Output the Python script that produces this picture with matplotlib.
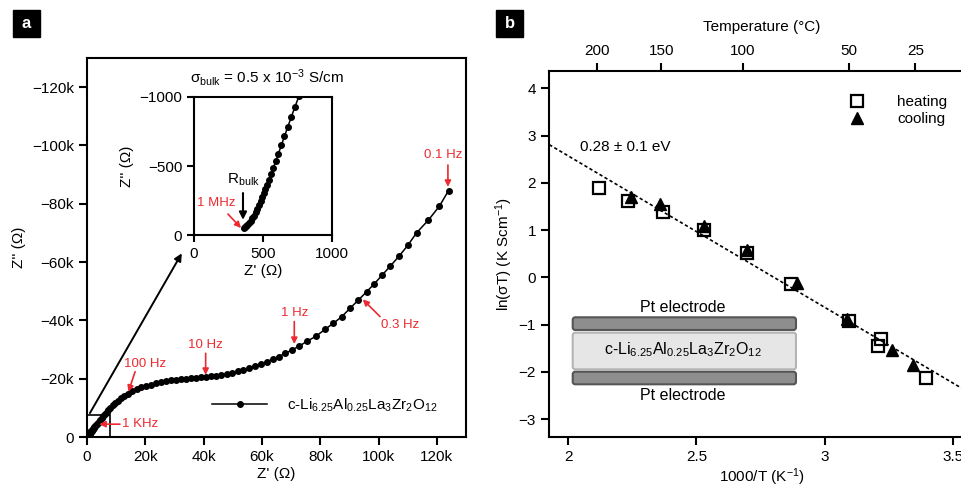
import numpy as np
import matplotlib
matplotlib.use('Agg')
import matplotlib.pyplot as plt
from matplotlib.patches import Rectangle, FancyBboxPatch
from matplotlib.lines import Line2D
from matplotlib.ticker import FuncFormatter

plt.rcParams['font.family'] = ['Liberation Sans', 'DejaVu Sans']
plt.rcParams['mathtext.default'] = 'regular'
plt.rcParams['font.size'] = 11

RED = '#ec2a30'

# ---- panel a: impedance spectrum (kOhm), Z' and -Z''
z_re_k = [0.360, 0.368, 0.377, 0.387, 0.398, 0.410, 0.422, 0.434, 0.446, 0.458,
          0.470, 0.482, 0.494, 0.506, 0.518, 0.530, 0.543, 0.558, 0.574, 0.592,
          0.612, 0.633, 0.655, 0.680, 0.706, 0.732, 0.760, 0.800, 0.860, 0.930,
          1.010, 1.100, 1.200, 1.310, 1.430, 1.570, 1.720, 1.890, 2.080, 2.290,
          2.520, 2.780, 3.070, 3.390, 3.740, 4.150, 4.600, 5.100, 5.600, 6.150,
          6.750, 7.350, 8.000, 8.750, 9.600, 10.50, 11.50, 12.70, 14.00, 15.50,
          17.00, 18.60, 20.30, 22.00, 23.70, 25.40, 27.10, 28.80, 30.50, 32.20,
          33.90, 35.60, 37.30, 39.00, 40.80, 42.50, 44.30, 46.10, 47.90, 49.80,
          51.70, 53.60, 55.60, 57.60, 59.60, 61.60, 63.70, 65.80, 68.00, 70.20,
          72.80, 75.60, 78.60, 81.60, 84.50, 87.40, 90.20, 93.10, 95.90, 98.60,
          101.3, 104.1, 107.1, 110.0, 113.1, 117.1, 120.9, 124.0]
z_im_k = [0.050, 0.055, 0.062, 0.072, 0.085, 0.101, 0.120, 0.141, 0.164, 0.189,
          0.215, 0.243, 0.272, 0.302, 0.333, 0.365, 0.400, 0.440, 0.484, 0.534,
          0.590, 0.650, 0.714, 0.785, 0.858, 0.930, 1.005, 1.090, 1.190, 1.300,
          1.420, 1.550, 1.690, 1.840, 2.000, 2.180, 2.370, 2.580, 2.810, 3.060,
          3.330, 3.630, 3.960, 4.320, 4.700, 5.200, 5.800, 6.500, 7.200, 7.950,
          8.700, 9.400, 10.10, 10.85, 11.65, 12.45, 13.25, 14.10, 14.90, 15.70,
          16.40, 17.00, 17.55, 18.00, 18.40, 18.80, 19.10, 19.40, 19.60, 19.80,
          20.00, 20.15, 20.30, 20.45, 20.60, 20.80, 21.00, 21.30, 21.60, 22.00,
          22.50, 23.00, 23.70, 24.40, 25.10, 25.80, 26.70, 27.60, 28.70, 29.80,
          31.20, 32.90, 34.60, 36.90, 39.00, 41.30, 44.10, 47.00, 49.80, 52.60,
          55.60, 58.70, 62.10, 65.70, 70.10, 74.40, 79.20, 84.50]

# frequency labels: (text, text pos, arrow start, arrow tip) in kOhm
freq_labels = [
    ('0.1 Hz', (122.1, 96.6), (123.8, 93.3), (123.8, 85.8)),
    ('0.3 Hz', (107.4, 38.4), (100.5, 41.3), (94.6, 47.2)),
    ('1 Hz', (71.4, 42.6), (71.1, 39.6), (71.1, 31.9)),
    ('10 Hz', (40.7, 31.6), (40.7, 28.7), (40.7, 21.3)),
    ('100 Hz', (19.9, 25.0), (16.5, 22.4), (14.2, 15.5)),
]

# ---- panel b: Arrhenius data
heat_x = [2.120, 2.234, 2.368, 2.529, 2.696, 2.871, 3.096, 3.222, 3.209, 3.395]
heat_y = [1.90, 1.62, 1.39, 1.01, 0.52, -0.13, -0.92, -1.31, -1.45, -2.13]
cool_x = [2.245, 2.358, 2.529, 2.696, 2.891, 3.086, 3.265, 3.346]
cool_y = [1.70, 1.55, 1.08, 0.58, -0.11, -0.87, -1.54, -1.86]
fit_x = [1.926, 3.59]
fit_y = [2.81, -2.52]
temps_c = [200, 150, 100, 50, 25]

fig = plt.figure(figsize=(9.61, 4.9), dpi=100)

# panel labels
for x0, lab in [(13, 'a'), (496, 'b')]:
    fig.patches.append(Rectangle((x0 / 961, 1 - 37 / 490), 27 / 961, 27 / 490,
                                 transform=fig.transFigure, color='black'))
    fig.text((x0 + 13.5) / 961, 1 - 23.5 / 490, lab, color='white',
             fontweight='bold', fontsize=12, ha='center', va='center')

zre = np.array(z_re_k) * 1000
zim = -np.array(z_im_k) * 1000

axa = fig.add_axes([87 / 961, 1 - 437 / 490, 379 / 961, 379 / 490])
axa.plot(zre, zim, 'k-', marker='o', ms=4, lw=1.1,
         label='c-Li$_{6.25}$Al$_{0.25}$La$_3$Zr$_2$O$_{12}$')
axa.set_xlim(0, 130000)
axa.set_ylim(0, -130000)
axa.set_xticks(np.arange(0, 130000, 20000))
axa.set_yticks(np.arange(0, -130000, -20000))
kfmt = FuncFormatter(lambda v, p: '0' if v == 0 else f'{v / 1000:.0f}k'.replace('-', '\u2212'))
axa.xaxis.set_major_formatter(kfmt)
axa.yaxis.set_major_formatter(kfmt)
axa.set_xlabel("Z' (\u03a9)", labelpad=2)
axa.set_ylabel("Z'' (\u03a9)", labelpad=4)
for s in axa.spines.values():
    s.set_linewidth(1.5)
axa.tick_params(direction='out', length=6, width=1.5, labelsize=11)
axa.legend(loc='center left', bbox_to_anchor=(0.33, 0.0844), frameon=False,
           borderpad=0, borderaxespad=0, handlelength=3.6, handletextpad=1.3,
           fontsize=11)

for txt, tpos, a0, a1 in freq_labels:
    axa.annotate('', xy=(a1[0] * 1000, -a1[1] * 1000), xytext=(a0[0] * 1000, -a0[1] * 1000),
                 arrowprops=dict(arrowstyle='-|>', color=RED, lw=1.2, mutation_scale=9,
                                 shrinkA=0, shrinkB=0))
    axa.text(tpos[0] * 1000, -tpos[1] * 1000, txt, color=RED, fontsize=9.5,
             ha='center', va='center')
axa.annotate('', xy=(4200, -4400), xytext=(11300, -4400),
             arrowprops=dict(arrowstyle='-|>', color=RED, lw=1.2, mutation_scale=9,
                             shrinkA=0, shrinkB=0))
axa.text(11900, -4400, '1 KHz', color=RED, fontsize=9.5, ha='left', va='center')

axa.add_patch(Rectangle((0, 0), 8000, -7500, fill=False, lw=1.2, ec='black'))
axa.annotate('', xy=(32500, -63000), xytext=(1000, -8200),
             arrowprops=dict(arrowstyle='-|>', color='black', lw=1.4, mutation_scale=11,
                             shrinkA=0, shrinkB=0))

# inset
axi = fig.add_axes([194 / 961, 1 - 235 / 490, 138 / 961, 138 / 490])
axi.plot(zre, zim, 'k-', marker='o', ms=4, lw=1.1)
axi.set_xlim(0, 1000)
axi.set_ylim(0, -1000)
axi.set_xticks([0, 500, 1000])
axi.set_yticks([0, -500, -1000])
axi.set_yticklabels(['0', '\u2212500', '\u22121000'])
for s in axi.spines.values():
    s.set_linewidth(1.5)
axi.tick_params(direction='out', length=5, width=1.5, labelsize=11)
axi.set_xlabel("Z' (\u03a9)", labelpad=2)
axi.set_ylabel("Z'' (\u03a9)", labelpad=4)
axi.text(0.53, 1.138, '\u03c3$_{bulk}$ = 0.5 x 10$^{-3}$ S/cm', transform=axi.transAxes,
         ha='center', va='center', fontsize=11)
axi.text(355, -399, 'R$_{bulk}$', ha='center', va='center', fontsize=11)
axi.annotate('', xy=(355, -110), xytext=(355, -304),
             arrowprops=dict(arrowstyle='-|>', color='black', lw=1.5, mutation_scale=11,
                             shrinkA=0, shrinkB=0))
axi.text(159, -232, '1 MHz', color=RED, fontsize=9.5, ha='center', va='center')
axi.annotate('', xy=(341, -51), xytext=(246, -152),
             arrowprops=dict(arrowstyle='-|>', color=RED, lw=1.2, mutation_scale=9,
                             shrinkA=0, shrinkB=0))

# ---- panel b
axb = fig.add_axes([549.3 / 961, 1 - 436.7 / 490, 425.7 / 961, 365.7 / 490])
axb.plot(fit_x, fit_y, color='black', lw=1.2, ls=(0, (2, 1.5)))
axb.plot(heat_x, heat_y, ls='none', marker='s', ms=8, mfc='none', mec='black', mew=1.6,
         label='heating')
axb.plot(cool_x, cool_y, ls='none', marker='^', ms=8.5, color='black', label='cooling')
axb.set_xlim(1.926, 3.587)
axb.set_ylim(-3.37, 4.37)
axb.set_xticks([2, 2.5, 3, 3.5])
axb.set_xticklabels(['2', '2.5', '3', '3.5'])
axb.set_yticks(range(-3, 5))
axb.spines['right'].set_visible(False)
for s in ['left', 'bottom', 'top']:
    axb.spines[s].set_linewidth(1.5)
axb.tick_params(direction='out', length=6, width=1.5, labelsize=11)
axb.set_xlabel('1000/T (K$^{-1}$)', labelpad=2)
axb.set_ylabel('ln(\u03c3T) (K Scm$^{-1}$)', labelpad=3)
axb.text(2.046, 2.76, '0.28 \u00b1 0.1 eV', ha='left', va='center', fontsize=11)

handles = [Line2D([], [], ls='none', marker='s', ms=8, mfc='none', mec='black', mew=1.6),
           Line2D([], [], ls='none', marker='^', ms=8.5, color='black')]
axb.legend(handles, ['heating', 'cooling'], loc='upper left',
           bbox_to_anchor=(0.706, 0.934), frameon=False, borderpad=0,
           borderaxespad=0, handlelength=1.0, handletextpad=2.1, labelspacing=0.2,
           fontsize=11)

top = axb.twiny()
top.set_xlim(axb.get_xlim())
top.set_xticks([1000 / (t + 273.15) for t in temps_c])
top.set_xticklabels([str(t) for t in temps_c])
top.tick_params(direction='out', length=6, width=1.5, labelsize=11)
top.set_xlabel('Temperature (\u00b0C)', labelpad=9)
for s in top.spines.values():
    s.set_visible(False)

# electrode sketch
asp = 425.7 / 365.7
bars = [(0.2918, 0.0347, '#8e8e8e', '#555555'),
        (0.1843, 0.1001, '#e6e6e6', '#b4b4b4'),
        (0.1433, 0.0344, '#8e8e8e', '#555555')]
for y0, h, fc, ec in bars:
    axb.add_patch(FancyBboxPatch((0.055, y0), 0.5245, h, transform=axb.transAxes,
                                 boxstyle='round,pad=0,rounding_size=0.006',
                                 mutation_aspect=asp, fc=fc, ec=ec, lw=1.5))
axb.text(0.314, 0.3527, 'Pt electrode', transform=axb.transAxes, ha='center',
         va='center', fontsize=11.5)
axb.text(0.314, 0.114, 'Pt electrode', transform=axb.transAxes, ha='center',
         va='center', fontsize=11.5)
axb.text(0.314, 0.237, 'c-Li$_{6.25}$Al$_{0.25}$La$_3$Zr$_2$O$_{12}$',
         transform=axb.transAxes, ha='center', va='center', fontsize=11.5)

fig.savefig('out.png', dpi=100)
